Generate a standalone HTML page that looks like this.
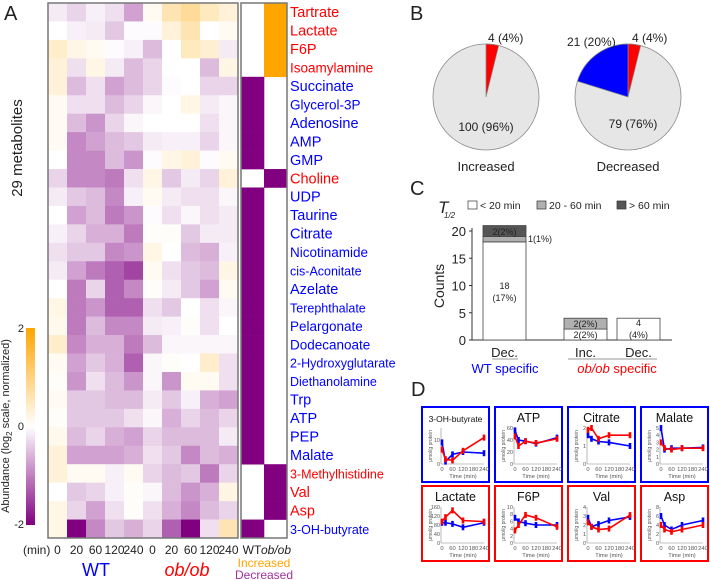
<!DOCTYPE html>
<html><head><meta charset="utf-8">
<style>
html,body{margin:0;padding:0;background:#fff;}
svg{display:block;font-family:"Liberation Sans",Arial,sans-serif;}
</style></head>
<body>
<svg id="fig" width="710" height="580" viewBox="0 0 710 580" xmlns="http://www.w3.org/2000/svg">
<g id="heat"></g>
<g id="pies"></g>
<g id="barc"></g>
<g id="mini"></g>
</svg>
<script>
const metabolites=["Tartrate","Lactate","F6P","Isoamylamine","Succinate","Glycerol-3P","Adenosine","AMP","GMP","Choline","UDP","Taurine","Citrate","Nicotinamide","cis-Aconitate","Azelate","Terephthalate","Pelargonate","Dodecanoate","2-Hydroxyglutarate","Diethanolamine","Trp","ATP","PEP","Malate","3-Methylhistidine","Val","Asp","3-OH-butyrate"];
const labelRed=[1,1,1,1,0,0,0,0,0,1,0,0,0,0,0,0,0,0,0,0,0,0,0,0,0,1,1,1,0];
const heatValues=[
[-0.2,-0.4,-0.15,-0.3,-0.8,0.1,0.6,0.8,0.5,0.3],
[0,-0.15,-0.2,-0.5,-0.05,-0.05,0.3,0.6,0,0.1],
[0.4,0.2,0.1,-0.05,-0.15,-0.6,0,0.5,0.35,-0.2],
[0.3,-0.3,0.2,-0.2,-0.6,-0.4,0,0,-0.6,0.2],
[0.3,-0.6,-0.3,-0.8,-0.6,-0.4,-0.05,0,-0.4,-0.4],
[0.1,-0.3,-0.3,-0.6,-0.4,-0.1,0,0.2,-0.2,-0.1],
[0.1,-0.6,-0.9,-0.4,-0.1,0,0,0,-0.3,-0.1],
[0.1,-1.0,-0.8,-0.6,-0.5,-0.2,-0.15,-0.15,-0.4,-0.1],
[0,-1.0,-1.0,-0.6,-0.9,-0.05,0.2,0.3,-0.05,0.1],
[-0.4,-1.0,-1.0,-1.1,-0.3,0.2,-0.5,-0.2,-0.4,0.3],
[-0.2,-0.5,-0.6,-1.0,-0.15,0.1,-0.2,-0.3,-0.3,-0.1],
[0,-0.8,-0.6,-1.1,-0.9,-0.05,-0.3,-0.1,-0.3,-0.2],
[-0.15,-0.4,-0.7,-0.7,-1.1,0.05,0.05,-0.5,-0.2,-0.2],
[-0.3,-0.5,-0.5,-1.0,-0.9,0.2,0,-0.6,-0.7,-0.15],
[-0.2,-0.8,-1.1,-1.3,-1.5,0.1,-0.3,-0.5,-0.6,0.2],
[0,-1.1,-0.4,-1.3,-1.0,0.05,-0.2,-0.5,-0.8,0.1],
[0.2,-1.1,-0.9,-1.3,-1.3,-0.3,-0.5,0,-0.3,-0.1],
[0.15,-1.1,-0.6,-1.0,-1.0,-0.2,-0.15,0.05,-0.3,0],
[0.4,-1.0,-0.7,-0.7,-1.1,-0.6,-0.1,-0.1,-0.1,-0.1],
[0.1,-0.8,-0.5,-0.7,-1.3,-0.1,0.05,0,0.4,-0.3],
[0.05,-0.9,-0.3,-0.6,-0.9,-0.1,-0.9,0.1,0.1,-0.3],
[0.1,-0.5,-0.5,-0.6,-0.6,-0.2,-0.5,-0.15,-0.7,-0.8],
[0.05,-0.5,-0.5,-0.5,-0.3,-0.1,-0.7,-0.4,-0.6,-0.4],
[0.15,-0.6,-0.4,-0.7,-0.8,-0.4,-0.6,-0.6,-0.6,-0.2],
[0.3,-0.8,-0.8,-0.8,-0.7,-0.3,-0.5,-1.0,-0.6,-0.7],
[0.3,0.1,0.1,-0.15,0.1,-0.4,-0.6,-0.5,-1.1,-0.4],
[0,-0.5,-0.4,-0.15,0.05,-0.1,-0.6,-0.9,-0.7,0.2],
[0.2,-0.4,-0.8,-0.3,0.05,-0.3,-0.7,-1.0,-0.6,-0.4],
[0.2,-2,-1.0,-0.5,-0.7,-0.4,-1.3,-2,-0.3,0.6]];
const wtIndicator=[0,0,0,0,-1,-1,-1,-1,-1,0,-1,-1,-1,-1,-1,-1,-1,-1,-1,-1,-1,-1,-1,-1,-1,0,0,0,-1];
const obIndicator=[1,1,1,1,0,0,0,0,0,-1,0,0,0,0,0,0,0,0,0,0,0,0,0,0,0,-1,-1,-1,0];
const timeLabels=["0","20","60","120","240","0","20","60","120","240"];
const pieIncreased=[4,100];
const pieDecreasedOb=[4];const pieDecreasedWT=[21];const pieDecreasedRest=[79];
const barCategories=["Dec.","Inc.","Dec."];
const barLt20=[18,2,4];const bar20to60=[1,2,0];const barGt60=[2,0,0];
const barYTicks=[0,5,10,15,20];
const miniTimes=[0,20,60,120,240];
const miniTitles=["3-OH-butyrate","ATP","Citrate","Malate","Lactate","F6P","Val","Asp"];
const miniYMax=[15,60,2,5,160,10,4,8];
const miniWT=[[9,1,4,5,4.5],[56,40,38,34,44],[1.6,1.4,1.25,1.2,1.0],[5,2,2.2,2.2,2.3],[90,90,85,70,90],[7,6,5.5,5,5],[2.8,1.8,2.1,2.5,2.9],[6,4,3,4,5]];
const miniOb=[[6,2,1.5,5.5,11],[46,30,38,35,42],[1.9,2.0,1.4,1.6,1.6],[3,2.2,2.0,2.2,2.2],[95,115,145,100,95],[3.5,5,7.8,7,4.5],[2.3,1.8,1.5,1.6,3.1],[4,3,2.5,3,4]];
const miniYTicks=[[0,10],[0,20,40,60],[0,1,2],[0,1,2,3,4,5],[0,40,80,120,160],[0,2,4,6,8,10],[0,1,2,3,4],[0,2,4,6,8]];

const NS="http://www.w3.org/2000/svg";
function el(p,tag,attrs,txt){const e=document.createElementNS(NS,tag);for(const k in attrs)e.setAttribute(k,attrs[k]);if(txt!==undefined)e.textContent=txt;p.appendChild(e);return e;}
function lerp(a,b,t){return Math.round(a+(b-a)*t);}
function heatColor(v){v=Math.max(-2,Math.min(2,v));
 if(v>=0){const t=v/2;return `rgb(255,${lerp(255,165,t)},${lerp(255,0,t)})`;}
 const t=Math.pow(-v/2,1.1);return `rgb(${lerp(255,128,t)},${lerp(255,0,t)},${lerp(255,128,t)})`;}

const H=document.getElementById('heat');
el(H,'text',{x:4,y:20,'font-size':20,fill:'#222'},'A');
const hx0=48,hx1=238,hy0=3,hy1=538,nR=metabolites.length,nC=10;
const cw=(hx1-hx0)/nC,rh=(hy1-hy0)/nR;
const xCol=i=>hx0+i*cw, yRow=j=>hy0+j*rh;
heatValues.forEach((row,j)=>row.forEach((v,i)=>{
 const r=el(H,'rect',{x:xCol(i),y:yRow(j),width:cw+0.3,height:rh+0.3,fill:heatColor(v)});
 
 
}));
el(H,'rect',{x:hx0,y:hy0,width:hx1-hx0,height:hy1-hy0,fill:'none',stroke:'#777','stroke-width':1.5});
const ix0=241,iw=23;
metabolites.forEach((m,j)=>{
 [wtIndicator[j],obIndicator[j]].forEach((v,k)=>{
  if(v!==0){const r=el(H,'rect',{x:ix0+k*iw,y:yRow(j),width:iw+0.3,height:rh+0.3,fill:v>0?'#FFA500':'#800080'});
  
  }
 });
 const fs=m.length>12?12.5:(m.length>10?13.5:14.5);
 const t=el(H,'text',{x:290,y:yRow(j)+rh/2+5,'font-size':fs,fill:labelRed[j]?'#ff0000':'#0000ff'},m);
 
 
});
el(H,'rect',{x:ix0,y:hy0,width:2*iw,height:hy1-hy0,fill:'none',stroke:'#777','stroke-width':1.5});
el(H,'text',{x:23,y:554,'font-size':12,fill:'#222'},'(min)');
timeLabels.forEach((t,i)=>{const e=el(H,'text',{x:xCol(i)+cw/2,y:554,'font-size':12,fill:'#222','text-anchor':'middle'},t);
 });
el(H,'text',{x:96,y:576,'font-size':18,fill:'#0000ff','text-anchor':'middle'},'WT');
el(H,'text',{x:187,y:576,'font-size':18,fill:'#ff0000','font-style':'italic','text-anchor':'middle'},'ob/ob');
el(H,'text',{x:252,y:554,'font-size':12,fill:'#222','text-anchor':'middle'},'WT');
el(H,'text',{x:276,y:554,'font-size':12,fill:'#222','font-style':'italic','text-anchor':'middle'},'ob/ob');
el(H,'text',{x:264,y:567,'font-size':12,fill:'#FFA500','text-anchor':'middle'},'Increased');
el(H,'text',{x:264,y:579,'font-size':12,fill:'#a030a0','text-anchor':'middle'},'Decreased');
el(H,'text',{x:0,y:0,'font-size':15,fill:'#222','text-anchor':'middle',transform:'translate(22,148) rotate(-90)'},'29 metabolites');
const grad=el(H,'linearGradient',{id:'cb',x1:0,y1:0,x2:0,y2:1});
el(grad,'stop',{offset:'0',  'stop-color':'#FFA500'});
el(grad,'stop',{offset:'0.5','stop-color':'#ffffff'});
el(grad,'stop',{offset:'1',  'stop-color':'#800080'});
el(H,'rect',{x:26,y:328,width:9,height:197,fill:'url(#cb)'});
el(H,'text',{x:24,y:332,'font-size':11,fill:'#222','text-anchor':'end'},'2');
el(H,'text',{x:24,y:430,'font-size':11,fill:'#222','text-anchor':'end'},'0');
el(H,'text',{x:24,y:528,'font-size':11,fill:'#222','text-anchor':'end'},'-2');
const cbt=el(H,'text',{x:0,y:0,'font-size':11,fill:'#222','text-anchor':'middle',transform:'translate(9,426) rotate(-90)'});
cbt.innerHTML='Abundance (log<tspan font-size="8" dy="3">2</tspan><tspan dy="-3"> scale, normalized)</tspan>';

const P=document.getElementById('pies');
el(P,'text',{x:410,y:20,'font-size':20,fill:'#222'},'B');
function wedge(cx,cy,r,a0,a1,fill){const p0=[cx+r*Math.sin(a0),cy-r*Math.cos(a0)],p1=[cx+r*Math.sin(a1),cy-r*Math.cos(a1)];
 const large=(a1-a0)>Math.PI?1:0;
 return el(P,'path',{d:`M${cx},${cy}L${p0[0]},${p0[1]}A${r},${r} 0 ${large} 1 ${p1[0]},${p1[1]}Z`,fill:fill,stroke:'#888','stroke-width':0.7});}
(function(){const cx=486,cy=97,r=53,tot=pieIncreased[0]+pieIncreased[1];
 el(P,'circle',{cx:cx,cy:cy,r:r,fill:'#e6e6e6',stroke:'#888','stroke-width':0.8});
 const w=wedge(cx,cy,r,0,2*Math.PI*pieIncreased[0]/tot,'#ff0000');
 
 el(P,'text',{x:cx+2,y:42,'font-size':12,fill:'#222'},`${pieIncreased[0]} (4%)`);
 el(P,'text',{x:cx,y:131,'font-size':12,fill:'#222','text-anchor':'middle'},`${pieIncreased[1]} (96%)`);
 el(P,'text',{x:cx,y:171,'font-size':13,fill:'#222','text-anchor':'middle'},'Increased');
})();
(function(){const cx=628,cy=97,r=53,tot=pieDecreasedOb[0]+pieDecreasedWT[0]+pieDecreasedRest[0];
 el(P,'circle',{cx:cx,cy:cy,r:r,fill:'#e6e6e6',stroke:'#888','stroke-width':0.8});
 const a1=2*Math.PI*pieDecreasedOb[0]/tot;
 const w1=wedge(cx,cy,r,0,a1,'#ff0000');
 
 const w2=wedge(cx,cy,r,2*Math.PI-2*Math.PI*pieDecreasedWT[0]/tot,2*Math.PI,'#0000ff');
 
 el(P,'text',{x:632,y:42,'font-size':12,fill:'#222'},`${pieDecreasedOb[0]} (4%)`);
 el(P,'text',{x:567,y:46,'font-size':12,fill:'#222'},`${pieDecreasedWT[0]} (20%)`);
 el(P,'text',{x:633,y:128,'font-size':12,fill:'#222','text-anchor':'middle'},`${pieDecreasedRest[0]} (76%)`);
 el(P,'text',{x:628,y:171,'font-size':13,fill:'#222','text-anchor':'middle'},'Decreased');
})();

const C=document.getElementById('barc');
el(C,'text',{x:410,y:195,'font-size':20,fill:'#222'},'C');
const cy0=340,cy20=231,yC=v=>cy0-(cy0-cy20)*v/20;
const barX=[483,564,617],barW=43;
el(C,'text',{x:438,y:213,'font-size':17,'font-style':'italic',fill:'#222'},'T');
el(C,'text',{x:444,y:218,'font-size':8,'font-style':'italic',fill:'#222'},'1/2');
[['#ffffff','< 20 min',468],['#b0b0b0','20 - 60 min',537],['#555555','> 60 min',617]].forEach(l=>{
 el(C,'rect',{x:l[2],y:201,width:9,height:8,fill:l[0],stroke:'#333','stroke-width':0.7});
 el(C,'text',{x:l[2]+12,y:209,'font-size':10.5,fill:'#222'},l[1]);});
el(C,'line',{x1:472,y1:cy0,x2:672,y2:cy0,stroke:'#333'});
el(C,'line',{x1:472,y1:cy0,x2:472,y2:cy20-3,stroke:'#333'});
barYTicks.forEach(t=>{el(C,'line',{x1:469,y1:yC(t),x2:472,y2:yC(t),stroke:'#333'});
 el(C,'text',{x:466,y:yC(t)+5,'font-size':13,fill:'#222','text-anchor':'end'},t);});
el(C,'text',{x:0,y:0,'font-size':14,fill:'#222','text-anchor':'middle',transform:'translate(444,286) rotate(-90)'},'Counts');
barCategories.forEach((c,i)=>{
 let base=0;
 [[barLt20,'#ffffff'],[bar20to60,'#b0b0b0'],[barGt60,'#555555']].forEach(s=>{
  const v=s[0][i];if(v<=0)return;
  const r=el(C,'rect',{x:barX[i],y:yC(base+v),width:barW,height:yC(base)-yC(base+v),fill:s[1],stroke:'#444','stroke-width':0.8});
  
  
  base+=v;});
 el(C,'text',{x:barX[i]+barW/2,y:357,'font-size':13,fill:'#222','text-anchor':'middle'},c);
});
el(C,'text',{x:barX[0]+barW/2,y:235,'font-size':9,fill:'#222','text-anchor':'middle'},'2(2%)');
el(C,'text',{x:528,y:242,'font-size':9,fill:'#222'},'1(1%)');
el(C,'text',{x:barX[0]+barW/2,y:289,'font-size':9,fill:'#222','text-anchor':'middle'},'18');
el(C,'text',{x:barX[0]+barW/2,y:301,'font-size':9,fill:'#222','text-anchor':'middle'},'(17%)');
el(C,'text',{x:barX[1]+barW/2,y:327,'font-size':9,fill:'#222','text-anchor':'middle'},'2(2%)');
el(C,'text',{x:barX[1]+barW/2,y:338,'font-size':9,fill:'#222','text-anchor':'middle'},'2(2%)');
el(C,'text',{x:barX[2]+barW/2,y:326,'font-size':9,fill:'#222','text-anchor':'middle'},'4');
el(C,'text',{x:barX[2]+barW/2,y:338,'font-size':9,fill:'#222','text-anchor':'middle'},'(4%)');
el(C,'line',{x1:492,y1:359,x2:518,y2:359,stroke:'#999'});
el(C,'line',{x1:568,y1:359,x2:657,y2:359,stroke:'#999'});
el(C,'text',{x:505,y:373,'font-size':13,fill:'#0000ff','text-anchor':'middle'},'WT specific');
const obs=el(C,'text',{x:617,y:373,'font-size':13,fill:'#ff0000','text-anchor':'middle'});
obs.innerHTML='<tspan font-style="italic">ob/ob</tspan> specific';

const D=document.getElementById('mini');
el(D,'text',{x:411,y:396,'font-size':20,fill:'#222'},'D');
const boxX=[422,495,568,641],boxY=[407,486],bw=67,bh=75;
miniTitles.forEach((title,k)=>{
 const bx=boxX[k%4],by=boxY[Math.floor(k/4)],col=k<4?'#0000ff':'#ff0000';
 const g=el(D,'g',{});
 
 
 el(g,'rect',{x:bx,y:by,width:bw,height:bh,fill:'#fff',stroke:col,'stroke-width':2});
 el(g,'text',{x:bx+bw/2,y:by+15,'font-size':title.length>8?8.5:12.5,fill:'#111','text-anchor':'middle'},title);
 const px0=bx+20,px1=bx+62,py0=by+57,py1=by+21;
 const xs=t=>px0+(px1-px0)*t/240, ys=v=>py0-(py0-py1)*v/miniYMax[k];
 el(g,'line',{x1:px0-1,y1:py0,x2:px1,y2:py0,stroke:'#888','stroke-width':0.6});
 el(g,'line',{x1:px0-1,y1:py0,x2:px0-1,y2:py1,stroke:'#888','stroke-width':0.6});
 miniYTicks[k].forEach(t=>el(g,'text',{x:px0-2,y:ys(t)+2,'font-size':5.5,fill:'#555','text-anchor':'end'},t));
 [0,60,120,180,240].forEach(t=>el(g,'text',{x:xs(t),y:py0+7,'font-size':5.8,fill:'#555','text-anchor':'middle'},t));
 el(g,'text',{x:(px0+px1)/2,y:py0+14,'font-size':5.8,fill:'#555','text-anchor':'middle'},'Time (min)');
 el(g,'text',{x:0,y:0,'font-size':5,fill:'#555','text-anchor':'middle',transform:`translate(${bx+10},${(py0+py1)/2}) rotate(-90)`},'μmol/g protein');
 [[miniWT[k],'#0000ff'],[miniOb[k],'#ff0000']].forEach(s=>{
  const pts=s[0].map((v,i)=>xs(miniTimes[i])+','+ys(v)).join(' ');
  const pl=el(g,'polyline',{points:pts,fill:'none',stroke:s[1],'stroke-width':1.6});
  
  s[0].forEach((v,i)=>{const e=el(g,'rect',{x:xs(miniTimes[i])-1.3,y:ys(v)-3,width:2.6,height:6,fill:s[1]});
   });
 });
});
</script>
</body></html>
